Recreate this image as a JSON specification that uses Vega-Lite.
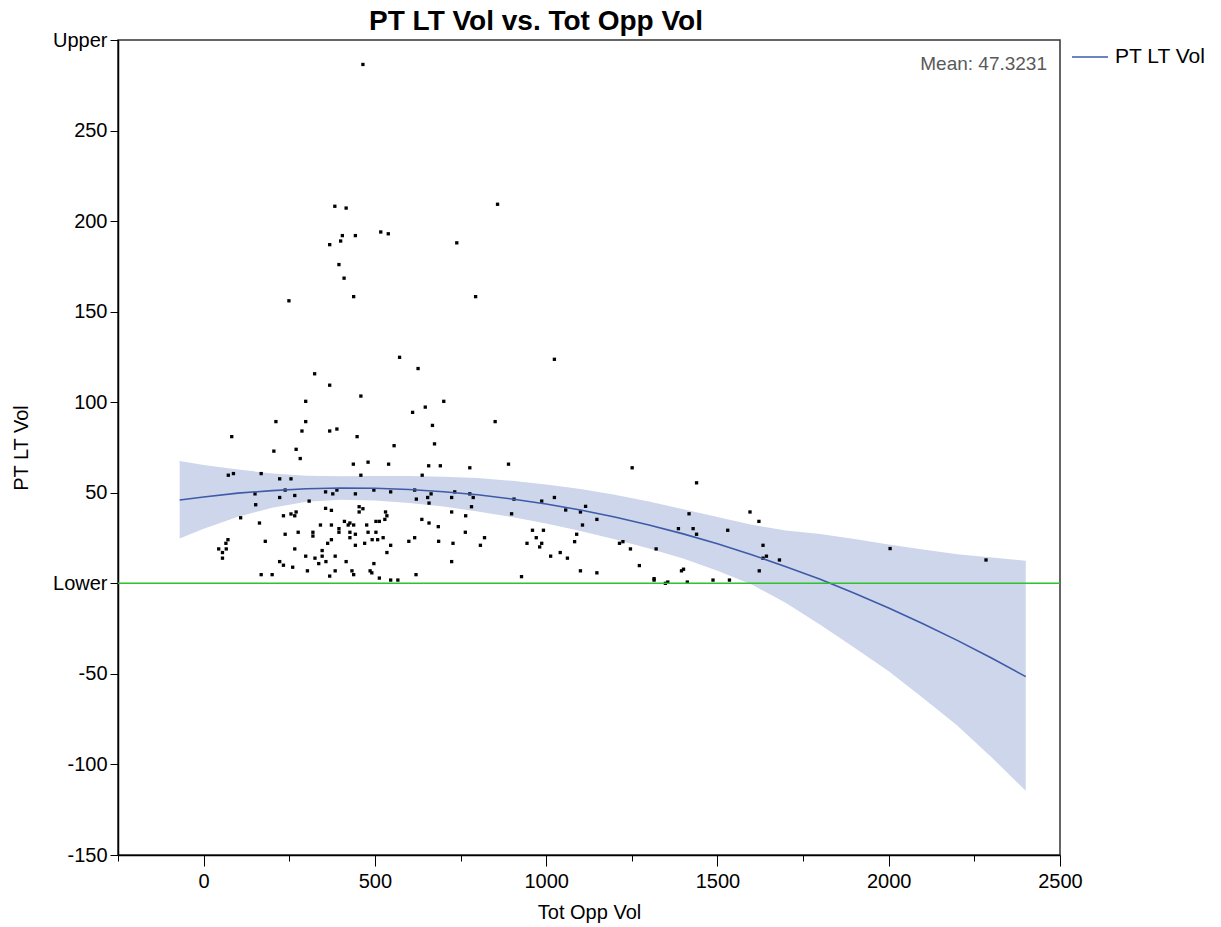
{
  "$schema": "https://vega.github.io/schema/vega-lite/v6.json",
  "width": 942,
  "height": 815,
  "autosize": {"type": "none"},
  "padding": {"left": 118, "top": 40, "right": 161, "bottom": 72},
  "background": "white",
  "title": {"text": "PT LT Vol vs. Tot Opp Vol", "fontSize": 28, "font": "Liberation Sans", "fontWeight": "bold", "color": "black", "offset": -6, "dx": -53, "anchor": "middle"},
  "config": {
    "view": {"stroke": "#333333", "strokeWidth": 1.5},
    "font": "Liberation Sans"
  },
  "datasets": {
    "fit": [
      {"x": -70, "fit": 46.0, "lo": 24.7, "hi": 67.6},
      {"x": 0, "fit": 47.7, "lo": 30.2, "hi": 65.4},
      {"x": 100, "fit": 49.8, "lo": 36.8, "hi": 62.8},
      {"x": 200, "fit": 51.2, "lo": 41.7, "hi": 60.7},
      {"x": 300, "fit": 52.2, "lo": 45.0, "hi": 59.4},
      {"x": 400, "fit": 52.6, "lo": 46.1, "hi": 59.1},
      {"x": 500, "fit": 52.5, "lo": 45.7, "hi": 59.3},
      {"x": 600, "fit": 51.8, "lo": 44.3, "hi": 59.3},
      {"x": 700, "fit": 50.6, "lo": 42.4, "hi": 58.8},
      {"x": 800, "fit": 48.9, "lo": 39.7, "hi": 58.1},
      {"x": 900, "fit": 46.6, "lo": 36.6, "hi": 56.6},
      {"x": 1000, "fit": 43.8, "lo": 33.0, "hi": 54.6},
      {"x": 1100, "fit": 40.5, "lo": 28.9, "hi": 52.1},
      {"x": 1200, "fit": 36.6, "lo": 24.3, "hi": 48.9},
      {"x": 1300, "fit": 32.2, "lo": 19.2, "hi": 45.2},
      {"x": 1400, "fit": 27.3, "lo": 13.7, "hi": 40.9},
      {"x": 1500, "fit": 21.8, "lo": 7.0, "hi": 36.6},
      {"x": 1600, "fit": 15.8, "lo": -0.7, "hi": 32.3},
      {"x": 1700, "fit": 9.2, "lo": -10.8, "hi": 29.2},
      {"x": 1800, "fit": 2.2, "lo": -22.8, "hi": 27.2},
      {"x": 1900, "fit": -5.5, "lo": -35.5, "hi": 24.5},
      {"x": 2000, "fit": -13.6, "lo": -48.6, "hi": 21.4},
      {"x": 2100, "fit": -22.3, "lo": -63.3, "hi": 18.7},
      {"x": 2200, "fit": -31.5, "lo": -78.5, "hi": 16.0},
      {"x": 2300, "fit": -41.2, "lo": -96.0, "hi": 14.2},
      {"x": 2400, "fit": -51.5, "lo": -114.5, "hi": 12.5}
    ],
    "pts": [
      {"TotOppVol": 465, "PTLTVol": 286.5}, {"TotOppVol": 383, "PTLTVol": 208.2}, {"TotOppVol": 416, "PTLTVol": 207.2}, {"TotOppVol": 858, "PTLTVol": 209.3},
      {"TotOppVol": 405, "PTLTVol": 192}, {"TotOppVol": 443, "PTLTVol": 192}, {"TotOppVol": 400, "PTLTVol": 189}, {"TotOppVol": 368, "PTLTVol": 187},
      {"TotOppVol": 517, "PTLTVol": 194}, {"TotOppVol": 539, "PTLTVol": 193}, {"TotOppVol": 739, "PTLTVol": 188}, {"TotOppVol": 395, "PTLTVol": 176},
      {"TotOppVol": 410, "PTLTVol": 168.5}, {"TotOppVol": 438, "PTLTVol": 158.3}, {"TotOppVol": 794, "PTLTVol": 158.3}, {"TotOppVol": 249, "PTLTVol": 156},
      {"TotOppVol": 572, "PTLTVol": 124.8}, {"TotOppVol": 626, "PTLTVol": 118.6}, {"TotOppVol": 324, "PTLTVol": 115.7}, {"TotOppVol": 368, "PTLTVol": 109.4},
      {"TotOppVol": 459, "PTLTVol": 103.4}, {"TotOppVol": 298, "PTLTVol": 100.5}, {"TotOppVol": 701, "PTLTVol": 100.5}, {"TotOppVol": 647, "PTLTVol": 97.3},
      {"TotOppVol": 610, "PTLTVol": 94.4}, {"TotOppVol": 211, "PTLTVol": 89.3}, {"TotOppVol": 298, "PTLTVol": 89.3}, {"TotOppVol": 851, "PTLTVol": 89.3},
      {"TotOppVol": 287, "PTLTVol": 84.1}, {"TotOppVol": 368, "PTLTVol": 84.1}, {"TotOppVol": 389, "PTLTVol": 85.2}, {"TotOppVol": 668, "PTLTVol": 87.2},
      {"TotOppVol": 82, "PTLTVol": 81}, {"TotOppVol": 448, "PTLTVol": 81}, {"TotOppVol": 556, "PTLTVol": 76}, {"TotOppVol": 674, "PTLTVol": 77},
      {"TotOppVol": 205, "PTLTVol": 73}, {"TotOppVol": 270, "PTLTVol": 74},
      {"TotOppVol": 282, "PTLTVol": 68.9}, {"TotOppVol": 437, "PTLTVol": 65.8}, {"TotOppVol": 480, "PTLTVol": 66.9}, {"TotOppVol": 540, "PTLTVol": 65.8},
      {"TotOppVol": 657, "PTLTVol": 64.9}, {"TotOppVol": 691, "PTLTVol": 64.9}, {"TotOppVol": 777, "PTLTVol": 63.8}, {"TotOppVol": 72, "PTLTVol": 59.7},
      {"TotOppVol": 87, "PTLTVol": 60.6}, {"TotOppVol": 168, "PTLTVol": 60.6}, {"TotOppVol": 459, "PTLTVol": 59.7}, {"TotOppVol": 638, "PTLTVol": 59.7},
      {"TotOppVol": 222, "PTLTVol": 57.7}, {"TotOppVol": 255, "PTLTVol": 57.7}, {"TotOppVol": 238, "PTLTVol": 51.5}, {"TotOppVol": 356, "PTLTVol": 50.5},
      {"TotOppVol": 377, "PTLTVol": 49.4}, {"TotOppVol": 389, "PTLTVol": 51.5}, {"TotOppVol": 443, "PTLTVol": 49.4}, {"TotOppVol": 497, "PTLTVol": 51.5},
      {"TotOppVol": 546, "PTLTVol": 50.5}, {"TotOppVol": 616, "PTLTVol": 51.5}, {"TotOppVol": 664, "PTLTVol": 49.4}, {"TotOppVol": 733, "PTLTVol": 50.5},
      {"TotOppVol": 777, "PTLTVol": 49.4}, {"TotOppVol": 150, "PTLTVol": 49.4}, {"TotOppVol": 222, "PTLTVol": 47.4}, {"TotOppVol": 266, "PTLTVol": 48.5},
      {"TotOppVol": 621, "PTLTVol": 46.5}, {"TotOppVol": 654, "PTLTVol": 47.4}, {"TotOppVol": 658, "PTLTVol": 44.3}, {"TotOppVol": 724, "PTLTVol": 47.4},
      {"TotOppVol": 787, "PTLTVol": 47.4}, {"TotOppVol": 308, "PTLTVol": 45.4}, {"TotOppVol": 152, "PTLTVol": 43.4}, {"TotOppVol": 782, "PTLTVol": 42.3},
      {"TotOppVol": 454, "PTLTVol": 42.3}, {"TotOppVol": 465, "PTLTVol": 41.2}, {"TotOppVol": 356, "PTLTVol": 41.4}, {"TotOppVol": 373, "PTLTVol": 40.3},
      {"TotOppVol": 454, "PTLTVol": 39.4}, {"TotOppVol": 531, "PTLTVol": 39.4}, {"TotOppVol": 724, "PTLTVol": 39.4}, {"TotOppVol": 270, "PTLTVol": 39.4},
      {"TotOppVol": 255, "PTLTVol": 38.3}, {"TotOppVol": 233, "PTLTVol": 37.3}, {"TotOppVol": 266, "PTLTVol": 37.3}, {"TotOppVol": 535, "PTLTVol": 37.3},
      {"TotOppVol": 765, "PTLTVol": 37.3}, {"TotOppVol": 108, "PTLTVol": 36.2}, {"TotOppVol": 637, "PTLTVol": 35.3}, {"TotOppVol": 658, "PTLTVol": 33.3},
      {"TotOppVol": 529, "PTLTVol": 35.3}, {"TotOppVol": 411, "PTLTVol": 34.2}, {"TotOppVol": 427, "PTLTVol": 33.3}, {"TotOppVol": 438, "PTLTVol": 32.2},
      {"TotOppVol": 422, "PTLTVol": 32.2}, {"TotOppVol": 503, "PTLTVol": 34.2}, {"TotOppVol": 513, "PTLTVol": 34.2}, {"TotOppVol": 163, "PTLTVol": 33.3},
      {"TotOppVol": 341, "PTLTVol": 32.2}, {"TotOppVol": 373, "PTLTVol": 32.2}, {"TotOppVol": 476, "PTLTVol": 32.2}, {"TotOppVol": 685, "PTLTVol": 31.3},
      {"TotOppVol": 395, "PTLTVol": 30.2}, {"TotOppVol": 395, "PTLTVol": 28.2}, {"TotOppVol": 319, "PTLTVol": 28.2}, {"TotOppVol": 319, "PTLTVol": 26.1},
      {"TotOppVol": 276, "PTLTVol": 28.2}, {"TotOppVol": 238, "PTLTVol": 27.1}, {"TotOppVol": 427, "PTLTVol": 28.2}, {"TotOppVol": 443, "PTLTVol": 27.1},
      {"TotOppVol": 480, "PTLTVol": 28.2}, {"TotOppVol": 503, "PTLTVol": 28.2}, {"TotOppVol": 427, "PTLTVol": 25.2}, {"TotOppVol": 764, "PTLTVol": 28.2},
      {"TotOppVol": 373, "PTLTVol": 24.1}, {"TotOppVol": 362, "PTLTVol": 22.1}, {"TotOppVol": 180, "PTLTVol": 23.2}, {"TotOppVol": 71, "PTLTVol": 24.1},
      {"TotOppVol": 65, "PTLTVol": 22.1}, {"TotOppVol": 44, "PTLTVol": 19}, {"TotOppVol": 66, "PTLTVol": 19}, {"TotOppVol": 55, "PTLTVol": 17},
      {"TotOppVol": 55, "PTLTVol": 13.9}, {"TotOppVol": 492, "PTLTVol": 24.1}, {"TotOppVol": 508, "PTLTVol": 24.1}, {"TotOppVol": 524, "PTLTVol": 25.2},
      {"TotOppVol": 443, "PTLTVol": 21}, {"TotOppVol": 470, "PTLTVol": 22.1}, {"TotOppVol": 546, "PTLTVol": 21}, {"TotOppVol": 599, "PTLTVol": 23.2},
      {"TotOppVol": 616, "PTLTVol": 25.2}, {"TotOppVol": 686, "PTLTVol": 23.2}, {"TotOppVol": 728, "PTLTVol": 22.1}, {"TotOppVol": 820, "PTLTVol": 25.2},
      {"TotOppVol": 808, "PTLTVol": 21}, {"TotOppVol": 266, "PTLTVol": 19}, {"TotOppVol": 346, "PTLTVol": 18.1}, {"TotOppVol": 298, "PTLTVol": 15},
      {"TotOppVol": 325, "PTLTVol": 13.9}, {"TotOppVol": 346, "PTLTVol": 15}, {"TotOppVol": 384, "PTLTVol": 15}, {"TotOppVol": 535, "PTLTVol": 17},
      {"TotOppVol": 222, "PTLTVol": 12}, {"TotOppVol": 233, "PTLTVol": 10}, {"TotOppVol": 260, "PTLTVol": 8.9}, {"TotOppVol": 336, "PTLTVol": 10.9},
      {"TotOppVol": 357, "PTLTVol": 12}, {"TotOppVol": 416, "PTLTVol": 12}, {"TotOppVol": 497, "PTLTVol": 10.9}, {"TotOppVol": 724, "PTLTVol": 12},
      {"TotOppVol": 303, "PTLTVol": 6.9}, {"TotOppVol": 384, "PTLTVol": 6.9}, {"TotOppVol": 433, "PTLTVol": 6.9}, {"TotOppVol": 486, "PTLTVol": 6.9},
      {"TotOppVol": 491, "PTLTVol": 5.8}, {"TotOppVol": 168, "PTLTVol": 4.8}, {"TotOppVol": 200, "PTLTVol": 4.8}, {"TotOppVol": 368, "PTLTVol": 4},
      {"TotOppVol": 438, "PTLTVol": 4.8}, {"TotOppVol": 513, "PTLTVol": 2.9}, {"TotOppVol": 546, "PTLTVol": 1.8}, {"TotOppVol": 567, "PTLTVol": 1.8},
      {"TotOppVol": 620, "PTLTVol": 4.8},
      {"TotOppVol": 1024, "PTLTVol": 123.7}, {"TotOppVol": 890, "PTLTVol": 65.8}, {"TotOppVol": 1251, "PTLTVol": 63.8}, {"TotOppVol": 1439, "PTLTVol": 55.5},
      {"TotOppVol": 906, "PTLTVol": 46.5}, {"TotOppVol": 987, "PTLTVol": 45.4}, {"TotOppVol": 1024, "PTLTVol": 47.4}, {"TotOppVol": 1115, "PTLTVol": 42.5},
      {"TotOppVol": 1057, "PTLTVol": 40.5}, {"TotOppVol": 1100, "PTLTVol": 39.4}, {"TotOppVol": 1148, "PTLTVol": 35.3}, {"TotOppVol": 1106, "PTLTVol": 32.2},
      {"TotOppVol": 899, "PTLTVol": 38.4}, {"TotOppVol": 1417, "PTLTVol": 38.4}, {"TotOppVol": 1595, "PTLTVol": 39.4}, {"TotOppVol": 1621, "PTLTVol": 34.2},
      {"TotOppVol": 1386, "PTLTVol": 30.2}, {"TotOppVol": 1429, "PTLTVol": 30.2}, {"TotOppVol": 1439, "PTLTVol": 27.1}, {"TotOppVol": 1530, "PTLTVol": 29.3},
      {"TotOppVol": 960, "PTLTVol": 29.3}, {"TotOppVol": 992, "PTLTVol": 29.3}, {"TotOppVol": 971, "PTLTVol": 25.2}, {"TotOppVol": 944, "PTLTVol": 22.1},
      {"TotOppVol": 987, "PTLTVol": 22.1}, {"TotOppVol": 981, "PTLTVol": 20.1}, {"TotOppVol": 1089, "PTLTVol": 27.1}, {"TotOppVol": 1083, "PTLTVol": 23},
      {"TotOppVol": 1214, "PTLTVol": 22.1}, {"TotOppVol": 1224, "PTLTVol": 23}, {"TotOppVol": 1246, "PTLTVol": 19}, {"TotOppVol": 1321, "PTLTVol": 19},
      {"TotOppVol": 1633, "PTLTVol": 21}, {"TotOppVol": 1633, "PTLTVol": 13.9}, {"TotOppVol": 1643, "PTLTVol": 15}, {"TotOppVol": 1681, "PTLTVol": 12.9},
      {"TotOppVol": 1622, "PTLTVol": 6.9}, {"TotOppVol": 1013, "PTLTVol": 15}, {"TotOppVol": 1041, "PTLTVol": 17}, {"TotOppVol": 1062, "PTLTVol": 13.9},
      {"TotOppVol": 1272, "PTLTVol": 9.8}, {"TotOppVol": 1100, "PTLTVol": 6.9}, {"TotOppVol": 1148, "PTLTVol": 5.8}, {"TotOppVol": 928, "PTLTVol": 3.7},
      {"TotOppVol": 1395, "PTLTVol": 6.9}, {"TotOppVol": 1401, "PTLTVol": 7.8}, {"TotOppVol": 1315, "PTLTVol": 2.6}, {"TotOppVol": 1315, "PTLTVol": 1.8},
      {"TotOppVol": 1348, "PTLTVol": 0}, {"TotOppVol": 1355, "PTLTVol": 0.7}, {"TotOppVol": 1412, "PTLTVol": 0.7}, {"TotOppVol": 1487, "PTLTVol": 1.8},
      {"TotOppVol": 1535, "PTLTVol": 1.8},
      {"TotOppVol": 2004, "PTLTVol": 19.2}, {"TotOppVol": 2284, "PTLTVol": 12.9}
    ]
  },
  "layer": [
    {
      "data": {"name": "fit"},
      "mark": {"type": "area", "color": "#cdd6ea", "opacity": 1},
      "encoding": {
        "x": {"field": "x", "type": "quantitative", "title": null,
              "scale": {"domain": [-250, 2500], "nice": false, "zero": false},
              "axis": {"orient": "bottom", "values": [-250, 250, 750, 1250, 1750, 2250], "labels": false, "domain": false, "grid": false, "tickSize": 6, "tickColor": "black", "tickWidth": 1}},
        "y": {"field": "lo", "type": "quantitative", "title": "PT LT Vol",
              "scale": {"domain": [-150, 300], "nice": false, "zero": false},
              "axis": {"values": [-150, -100, -50, 0, 50, 100, 150, 200, 250, 300],
                       "labelExpr": "datum.value == 300 ? 'Upper' : datum.value == 0 ? 'Lower' : '' + datum.value",
                       "tickSize": 8, "labelFontSize": 20, "titleFontSize": 20, "titleFontWeight": "normal",
                       "labelPadding": 3, "titlePadding": 21, "grid": false, "domainColor": "black", "domainWidth": 1.5,
                       "tickColor": "black", "labelColor": "black", "titleColor": "black",
                       "labelFont": "Liberation Sans", "titleFont": "Liberation Sans", "labelFlush": false, "labelOverlap": false}},
        "y2": {"field": "hi"}
      }
    },
    {
      "data": {"name": "pts"},
      "mark": {"type": "point", "shape": "square", "filled": true, "size": 11, "color": "black", "opacity": 1},
      "encoding": {
        "x": {"field": "TotOppVol", "type": "quantitative", "title": "Tot Opp Vol",
              "axis": {"orient": "bottom", "values": [0, 500, 1000, 1500, 2000, 2500], "format": "d", "tickSize": 11, "labelPadding": 5, "labelFontSize": 20,
                       "titleFontSize": 20, "titleFontWeight": "normal", "titlePadding": 11, "grid": false,
                       "domainColor": "black", "domainWidth": 1.5, "tickColor": "black", "labelColor": "black", "titleColor": "black",
                       "labelFont": "Liberation Sans", "titleFont": "Liberation Sans", "labelFlush": false, "labelOverlap": false}},
        "y": {"field": "PTLTVol", "type": "quantitative", "title": "PT LT Vol"}
      }
    },
    {
      "data": {"name": "fit"},
      "mark": {"type": "line", "strokeWidth": 1.6},
      "encoding": {
        "x": {"field": "x", "type": "quantitative", "axis": null},
        "y": {"field": "fit", "type": "quantitative", "title": "PT LT Vol"},
        "color": {"datum": "PT LT Vol", "type": "nominal",
                  "scale": {"range": ["#3e5aa8"]},
                  "legend": {"orient": "none", "legendX": 953, "legendY": -2, "title": null, "labelFontSize": 21,
                             "labelFont": "Liberation Sans", "labelColor": "black", "symbolType": "stroke",
                             "symbolSize": 1296, "symbolStrokeWidth": 1.5, "labelOffset": 6, "padding": 0}}
      }
    },
    {
      "data": {"values": [{"v": 0}]},
      "mark": {"type": "rule", "color": "#2fc12f", "strokeWidth": 1.5},
      "encoding": {
        "y": {"field": "v", "type": "quantitative", "title": "PT LT Vol"}
      }
    },
    {
      "data": {"values": [{"label": "Mean: 47.3231"}]},
      "mark": {"type": "text", "align": "right", "baseline": "middle", "fontSize": 19, "color": "#595959", "dx": -13, "dy": 24, "font": "Liberation Sans"},
      "encoding": {
        "x": {"datum": 2500, "type": "quantitative", "axis": null},
        "y": {"datum": 300, "type": "quantitative", "title": "PT LT Vol"},
        "text": {"field": "label"}
      }
    }
  ],
  "resolve": {"axis": {"x": "independent"}}
}
